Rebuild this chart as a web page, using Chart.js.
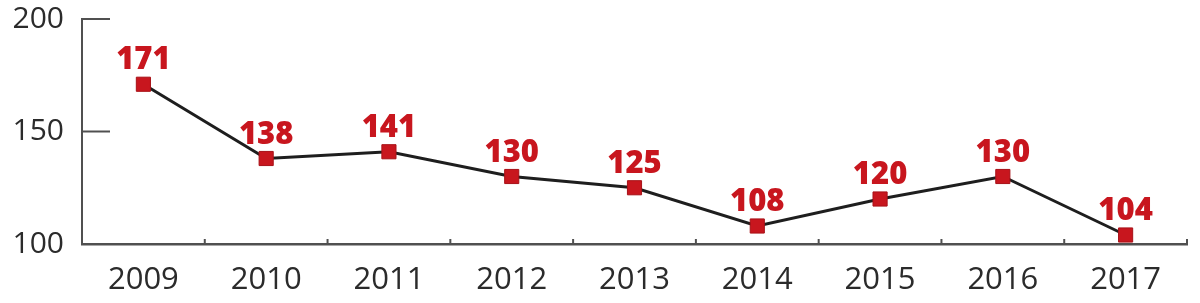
<!DOCTYPE html>
<html>
<head>
<meta charset="utf-8">
<script src="https://cdn.jsdelivr.net/npm/chart.js@4.4.1/dist/chart.umd.min.js"></script>
<style>
  html, body { margin: 0; padding: 0; background: #fff; }
  #wrap { width: 1200px; height: 303px; position: relative; }
</style>
</head>
<body>
<div id="wrap"><canvas id="chart"></canvas></div>
<script>
// data
const YEARS = ['2009', '2010', '2011', '2012', '2013', '2014', '2015', '2016', '2017'];
const VALUES = [171, 138, 141, 130, 125, 108, 120, 130, 104];
const Y_MIN = 100;
const Y_MAX = 200;
const Y_STEP = 50;

const RED = '#c8161e';
const AXIS = '#505050';
const TEXT = '#2b2b2b';

// value labels above the markers + small axis ticks
const decorations = {
    id: 'decorations',
    afterDatasetsDraw(chart) {
        const ctx = chart.ctx;
        const xs = chart.scales.x;
        const ys = chart.scales.y;
        const area = chart.chartArea;

        ctx.save();
        ctx.strokeStyle = AXIS;
        ctx.lineWidth = 2;

        // y ticks pointing inward
        ys.ticks.forEach(t => {
            const y = ys.getPixelForValue(t.value);
            ctx.beginPath();
            ctx.moveTo(area.left, y);
            ctx.lineTo(area.left + 28, y);
            ctx.stroke();
        });

        // x ticks between categories, pointing up
        const half = (xs.getPixelForValue(1) - xs.getPixelForValue(0)) / 2;
        for (let i = 0; i < YEARS.length; i++) {
            const x = xs.getPixelForValue(i) + half;
            ctx.beginPath();
            ctx.moveTo(x, area.bottom);
            ctx.lineTo(x, area.bottom - 5);
            ctx.stroke();
        }

        // value labels
        const meta = chart.getDatasetMeta(0);
        ctx.fillStyle = RED;
        ctx.font = '800 31px "Open Sans", "DejaVu Sans", sans-serif';
        ctx.textAlign = 'center';
        ctx.textBaseline = 'alphabetic';
        meta.data.forEach((pt, i) => {
            ctx.fillText(String(VALUES[i]), pt.x, pt.y - 15);
        });
        ctx.restore();
    }
};

new Chart(document.getElementById('chart'), {
    type: 'line',
    data: {
        labels: YEARS,
        datasets: [{
            data: VALUES,
            borderColor: '#1e1e1e',
            borderWidth: 3,
            pointStyle: 'rect',
            pointRadius: 10,
            pointBackgroundColor: RED,
            pointBorderColor: '#a81218',
            pointBorderWidth: 1,
            tension: 0,
            clip: false
        }]
    },
    options: {
        responsive: true,
        maintainAspectRatio: false,
        animation: false,
        layout: { padding: { top: 19, right: 13, bottom: 0, left: 0 } },
        plugins: {
            legend: { display: false },
            tooltip: { enabled: false }
        },
        scales: {
            x: {
                offset: true,
                grid: { display: false, drawTicks: false },
                border: { display: true, color: AXIS, width: 2.5 },
                ticks: {
                    color: TEXT,
                    padding: 18,
                    font: { family: '"Open Sans", sans-serif', size: 31 },
                    maxRotation: 0
                },
                afterFit(scale) { scale.height = 59; }
            },
            y: {
                min: Y_MIN,
                max: Y_MAX,
                grid: { display: false, drawTicks: false },
                border: { display: true, color: AXIS, width: 2 },
                ticks: {
                    stepSize: Y_STEP,
                    color: TEXT,
                    padding: 18,
                    font: { family: '"Open Sans", sans-serif', size: 30 }
                },
                afterFit(scale) {
                    scale.width = 82;
                    scale.paddingTop = 0;
                    scale.paddingBottom = 0;
                }
            }
        }
    },
    plugins: [decorations]
});
</script>
</body>
</html>
